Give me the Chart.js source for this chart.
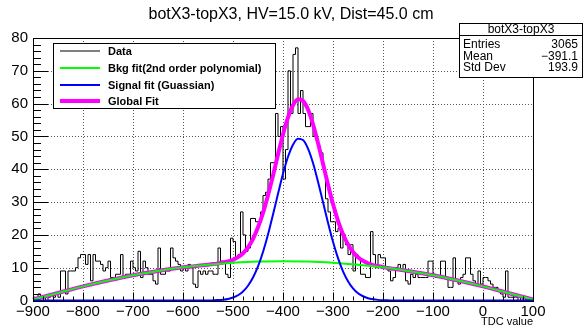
<!DOCTYPE html>
<html>
<head>
<meta charset="utf-8">
<script src="https://cdn.jsdelivr.net/npm/chart.js@4.4.0/dist/chart.umd.min.js"></script>
<style>
  html, body { margin: 0; padding: 0; background: #fff; }
</style>
</head>
<body>
<canvas id="c" width="583" height="328"></canvas>
<script>
// histogram: 200 bins of 5 from -900 to 100
const binLow = -900;
const binWidth = 5;
const counts = [
  1,1,0,2,1,1,0,1,2,1,2,1,9,9,2,9,9,9,10,13,
  14,14,11,14,6,14,12,12,11,9,10,12,7,7,8,8,14,7,8,8,
  12,10,9,15,7,12,10,8,8,6,5,16,8,8,9,9,16,13,12,11,
  9,10,9,11,10,5,4,9,8,9,8,9,9,8,8,16,12,12,8,7,
  19,18,13,14,27,20,15,16,25,25,24,24,27,32,33,37,42,42,57,50,
  53,37,46,70,57,75,77,57,64,57,53,53,57,50,49,47,45,40,31,27,
  24,24,21,22,16,20,17,14,17,9,14,13,8,8,7,7,21,14,10,14,
  13,13,10,9,6,7,10,11,9,11,6,5,8,7,8,7,7,7,7,12,
  12,8,7,7,12,12,7,4,4,13,6,5,7,8,13,13,8,6,5,9,
  5,7,7,6,5,4,4,3,2,1,9,1,1,1,1,0,1,0,1,0
];

// fit curves
const bkgX = [-900,-850,-800,-750,-700,-650,-600,-550,-500,-450,-400,-350,-300,-250,-200,-150,-100,-50,0,50,100];
const bkgY = [0.3,2.3,4.3,6.1,7.7,9.0,10.1,10.9,11.5,11.9,12.0,11.9,11.5,10.9,10.1,9.0,7.7,6.1,4.3,2.3,0.3];

const sigX = [-900,-800,-700,-600,
  -550,-540,-530,-520,-510,-500,-490,-480,-470,-460,-450,-440,-430,-420,-410,-400,-390,-380,-370,
  -360,-350,-340,-330,-320,-310,-300,-290,-280,-270,-260,-250,-240,-230,-220,-210,-200,-190,-180,
  -100,0,100];
const sigY = [0,0,0,0,
  0,0.05,0.12,0.25,0.48,0.9,1.6,2.75,4.5,7.0,10.4,14.8,20.1,26.2,32.5,38.6,43.8,47.5,49.3,
  48.9,46.3,41.9,36.2,30.0,23.7,17.9,12.9,8.9,5.9,3.7,2.2,1.3,0.7,0.37,0.19,0.09,0.04,0,
  0,0,0];

const globX = [-900,-850,-800,-750,-700,-650,-600,
  -550,-540,-530,-520,-510,-500,-490,-480,-470,-460,-450,-440,-430,-420,-410,-400,-390,-380,-370,
  -360,-350,-340,-330,-320,-310,-300,-290,-280,-270,-260,-250,-240,-230,-220,-210,-200,-190,-180,
  -150,-100,-50,0,50,100];
const globY = [0.3,2.3,4.3,6.1,7.7,9.0,10.1,
  10.9,11.1,11.3,11.6,11.9,12.4,13.2,14.4,16.2,18.8,22.3,26.7,32.1,38.1,44.5,50.6,55.8,59.5,61.3,
  60.8,58.2,53.7,48.0,41.7,35.3,29.4,24.3,20.2,17.1,14.8,13.2,12.1,11.3,10.8,10.5,10.2,9.9,9.7,
  9.0,7.7,6.1,4.3,2.3,0.3];

const xTicks = [-900,-800,-700,-600,-500,-400,-300,-200,-100,0,100];
const yTicks = [0,10,20,30,40,50,60,70,80];

const titleText = 'botX3-topX3, HV=15.0 kV, Dist=45.0 cm';
const xTitle = 'TDC value';
const statName = 'botX3-topX3';
const statRows = [['Entries', '3065'], ['Mean', '\u2212391.1'], ['Std Dev', '193.9']];

const FONT = '"Liberation Sans", Arial, Helvetica, sans-serif';

function fmt(v) {
  return v < 0 ? '\u2212' + Math.abs(v) : String(v);
}

const histPts = counts.map((c, i) => ({ x: binLow + i * binWidth, y: c }));
histPts.push({ x: binLow + counts.length * binWidth, y: counts[counts.length - 1] });

const toPts = (xs, ys) => xs.map((x, i) => ({ x: x, y: ys[i] }));

const rootDecor = {
  id: 'rootDecor',
  beforeDatasetsDraw(chart) {
    const { ctx, chartArea: a, scales: { x, y } } = chart;
    ctx.save();
    ctx.strokeStyle = '#555';
    ctx.lineWidth = 1;
    ctx.setLineDash([1, 2]);
    ctx.beginPath();
    xTicks.slice(1, -1).forEach(v => {
      const px = Math.round(x.getPixelForValue(v)) + 0.5;
      ctx.moveTo(px, a.top); ctx.lineTo(px, a.bottom);
    });
    yTicks.slice(1, -1).forEach(v => {
      const py = Math.round(y.getPixelForValue(v)) + 0.5;
      ctx.moveTo(a.left, py); ctx.lineTo(a.right, py);
    });
    ctx.stroke();
    ctx.restore();
  },
  afterDatasetsDraw(chart) {
    const { ctx, chartArea: a, scales: { x, y } } = chart;
    ctx.save();
    ctx.strokeStyle = '#000';
    ctx.lineWidth = 1;
    ctx.strokeRect(Math.round(a.left) + 0.5, Math.round(a.top) + 0.5,
      Math.round(a.right - a.left), Math.round(a.bottom - a.top));
    ctx.beginPath();
    // x ticks, inside, from the bottom
    for (let k = 0; k < xTicks.length; k++) {
      const px = Math.round(x.getPixelForValue(xTicks[k])) + 0.5;
      ctx.moveTo(px, a.bottom); ctx.lineTo(px, a.bottom - 8);
      if (k < xTicks.length - 1) {
        const step = (xTicks[k + 1] - xTicks[k]) / 5;
        for (let m = 1; m < 5; m++) {
          const mx = Math.round(x.getPixelForValue(xTicks[k] + m * step)) + 0.5;
          ctx.moveTo(mx, a.bottom); ctx.lineTo(mx, a.bottom - 4);
        }
      }
    }
    // y ticks, inside, from the left
    for (let k = 0; k < yTicks.length; k++) {
      const py = Math.round(y.getPixelForValue(yTicks[k])) + 0.5;
      ctx.moveTo(a.left, py); ctx.lineTo(a.left + 15, py);
      if (k < yTicks.length - 1) {
        const step = (yTicks[k + 1] - yTicks[k]) / 5;
        for (let m = 1; m < 5; m++) {
          const my = Math.round(y.getPixelForValue(yTicks[k] + m * step)) + 0.5;
          ctx.moveTo(a.left, my); ctx.lineTo(a.left + 8, my);
        }
      }
    }
    ctx.stroke();
    ctx.restore();
  },
  afterDraw(chart) {
    const { ctx, chartArea: a } = chart;
    ctx.save();
    ctx.fillStyle = '#000';

    // title
    ctx.font = '16px ' + FONT;
    ctx.textAlign = 'center';
    ctx.textBaseline = 'middle';
    ctx.fillText(titleText, 291, 15);

    // axis title
    ctx.font = '11px ' + FONT;
    ctx.textAlign = 'right';
    ctx.fillText(xTitle, a.right, 322);

    // legend
    ctx.fillStyle = '#fff';
    ctx.fillRect(53.5, 43.5, 222, 65);
    ctx.strokeStyle = '#000';
    ctx.lineWidth = 1;
    ctx.strokeRect(53.5, 43.5, 222, 65);
    const order = [3, 1, 0, 2];
    const rowY = [51, 68, 85, 101];
    ctx.font = 'bold 11px ' + FONT;
    ctx.textAlign = 'left';
    order.forEach((di, r) => {
      const ds = chart.data.datasets[di];
      ctx.strokeStyle = ds.borderColor;
      ctx.lineWidth = ds.borderWidth;
      ctx.beginPath();
      ctx.moveTo(60, rowY[r]); ctx.lineTo(100, rowY[r]);
      ctx.stroke();
      ctx.fillStyle = '#000';
      ctx.fillText(ds.label, 108, rowY[r] + 0.5);
    });

    // stats box
    ctx.fillStyle = '#fff';
    ctx.fillRect(459.5, 23.5, 123, 54);
    ctx.strokeStyle = '#000';
    ctx.lineWidth = 1;
    ctx.strokeRect(459.5, 23.5, 123, 54);
    ctx.beginPath();
    ctx.moveTo(459.5, 35.5); ctx.lineTo(582.5, 35.5);
    ctx.stroke();
    ctx.fillStyle = '#000';
    ctx.font = '12px ' + FONT;
    ctx.textAlign = 'center';
    ctx.fillText(statName, 521, 29.5);
    statRows.forEach((row, r) => {
      const ry = 45 + r * 11.5;
      ctx.textAlign = 'left';
      ctx.fillText(row[0], 463, ry);
      ctx.textAlign = 'right';
      ctx.fillText(row[1], 578, ry);
    });
    ctx.restore();
  }
};

new Chart(document.getElementById('c'), {
  type: 'line',
  data: {
    datasets: [
      {
        label: 'Signal fit (Guassian)',
        data: toPts(sigX, sigY),
        borderColor: '#0000ff', borderWidth: 2,
        cubicInterpolationMode: 'monotone',
        pointRadius: 0, fill: false, order: 1, clip: 4
      },
      {
        label: 'Bkg fit(2nd order polynomial)',
        data: toPts(bkgX, bkgY),
        borderColor: '#00ff00', borderWidth: 2,
        cubicInterpolationMode: 'monotone',
        pointRadius: 0, fill: false, order: 2, clip: 4
      },
      {
        label: 'Global Fit',
        data: toPts(globX, globY),
        borderColor: '#ff00ff', borderWidth: 4,
        cubicInterpolationMode: 'monotone',
        pointRadius: 0, fill: false, order: 3, clip: 4
      },
      {
        label: 'Data',
        data: histPts,
        borderColor: '#000000', borderWidth: 1,
        stepped: 'after',
        pointRadius: 0, fill: false, order: 4
      }
    ]
  },
  options: {
    responsive: false,
    animation: false,
    events: [],
    layout: { padding: { top: 38, right: 50, left: 0, bottom: 0 } },
    scales: {
      x: {
        type: 'linear',
        min: xTicks[0],
        max: xTicks[xTicks.length - 1],
        afterFit: s => { s.height = 27.5; },
        afterBuildTicks: s => { s.ticks = xTicks.map(v => ({ value: v })); },
        grid: { display: false, drawTicks: false },
        border: { display: false },
        ticks: {
          autoSkip: false, maxRotation: 0, padding: 2, color: '#000',
          font: { family: FONT, size: 15 },
          callback: v => fmt(v)
        }
      },
      y: {
        min: yTicks[0],
        max: yTicks[yTicks.length - 1],
        afterFit: s => { s.width = 33; },
        afterBuildTicks: s => { s.ticks = yTicks.map(v => ({ value: v })); },
        grid: { display: false, drawTicks: false },
        border: { display: false },
        ticks: {
          autoSkip: false, padding: 5, color: '#000',
          font: { family: FONT, size: 15 },
          callback: v => fmt(v)
        }
      }
    },
    plugins: {
      legend: { display: false },
      tooltip: { enabled: false },
      title: { display: false }
    }
  },
  plugins: [rootDecor]
});
</script>
</body>
</html>
